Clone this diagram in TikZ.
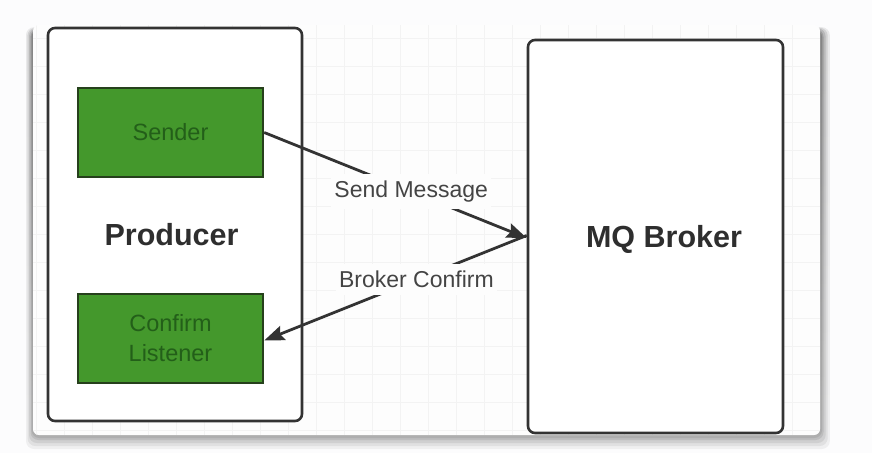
\documentclass[tikz,border=0pt]{standalone}
\usepackage{fontspec}
\setmainfont{Liberation Sans}
\usetikzlibrary{arrows.meta}
\definecolor{edge}{HTML}{333333}
\definecolor{gfill}{HTML}{44982C}
\definecolor{gtext}{HTML}{235F19}
\definecolor{gedge}{HTML}{26401C}
\definecolor{labtext}{HTML}{444444}
\definecolor{shade}{HTML}{8FA7B0}
\definecolor{panelbg}{HTML}{FDFDFD}
\definecolor{gridc}{HTML}{F3F3F3}
\tikzset{
  bigbox/.style={draw=edge, line width=2.6pt, rounded corners=7pt, fill=white, minimum width=254pt, minimum height=393pt, inner sep=0pt},
  greenbox/.style={draw=gedge, line width=2.4pt, fill=gfill, text=gtext, minimum width=185pt, minimum height=89pt, inner sep=0pt, align=center, font=\fontsize{23.5}{30}\selectfont},
  title/.style={font=\fontsize{30.5}{34}\selectfont\bfseries, text=edge!90!black},
  msg/.style={font=\fontsize{23}{26}\selectfont, text=labtext, fill=panelbg, inner xsep=3pt, inner ysep=7pt},
  conn/.style={draw=edge, line width=2.8pt, -{Stealth[length=20pt,width=15pt,inset=3pt]}}
}
\begin{document}
\begin{tikzpicture}[x=1pt,y=-1pt]
\useasboundingbox (0,0) rectangle (872,453);
\fill[white!97!shade] (0,0) rectangle (872,453);
% panel shadow
\foreach \o/\a in {14/0.05,11/0.07,8/0.09,5/0.12,3/0.15}{
  \fill[shade, opacity=\a, rounded corners=8pt] (33-\o*0.5,25+5-\o*0.2) rectangle (820+\o*0.7,435+\o);
}
\fill[panelbg, rounded corners=6pt] (33,25) rectangle (820,435);
% grid
\begin{scope}
\clip[rounded corners=6pt] (33,25) rectangle (820,435);
\foreach \x in {36,64,...,820} \draw[gridc, line width=0.8pt] (\x,25) -- (\x,435);
\foreach \y in {38,66,...,435} \draw[gridc, line width=0.8pt] (33,\y) -- (820,\y);
\end{scope}
% boxes
\node[bigbox] (producer) at (175,224.5) {};
\node[bigbox, minimum width=255pt] (broker) at (655.5,236.5) {};
\node[greenbox] (sender) at (170.5,132.5) {Sender};
\node[greenbox] (listener) at (170.5,338.5) {Confirm\\Listener};
\node[title] (ptitle) at (171.5,235) {Producer};
\node[title] (btitle) at (664,239) {MQ Broker};
% connectors
\coordinate (bin) at ([yshift=-1.5pt]broker.west);
\coordinate (bout) at ([yshift=1pt]broker.west);
\draw[conn] (sender.east) -- (bin) node[msg, pos=0.56] (sendlab) {Send Message};
\draw[conn] (bout) -- ([yshift=-2pt]listener.east) node[msg, pos=0.42] (conflab) {Broker Confirm};
\end{tikzpicture}
\end{document}
